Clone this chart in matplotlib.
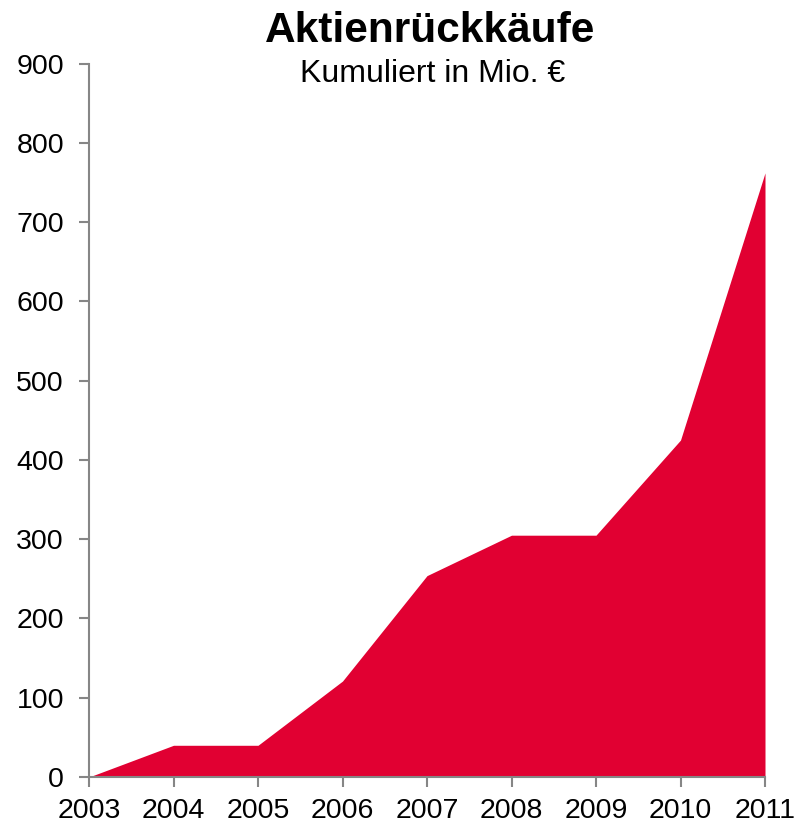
import matplotlib
matplotlib.use("Agg")
import matplotlib.pyplot as plt

years = [2003, 2004, 2005, 2006, 2007, 2008, 2009, 2010, 2011]
values = [0, 40, 40, 121, 254, 305, 305, 425, 762]
yticks = [0, 100, 200, 300, 400, 500, 600, 700, 800, 900]

plt.rcParams['font.family'] = ['Liberation Sans', 'DejaVu Sans']

fig = plt.figure(figsize=(7.98, 8.25), dpi=100)
ax = fig.add_axes([89/798, 48/825, (765-89)/798, (777-63.5)/825])

ax.fill_between(years, values, 0, color='#E10032', linewidth=0)
ax.set_xlim(2003, 2011)
ax.set_ylim(0, 900)
ax.set_xticks(years)
ax.set_yticks(yticks)
ax.tick_params(axis='both', labelsize=20.5, colors='#868686', labelcolor='black',
               length=7, width=1.5)
ax.tick_params(axis='y', pad=11)
ax.tick_params(axis='x', pad=8)
for s in ['top', 'right']:
    ax.spines[s].set_visible(False)
for s in ['left', 'bottom']:
    ax.spines[s].set_color('#868686')
    ax.spines[s].set_linewidth(1.5)
for lbl in ax.get_xticklabels() + ax.get_yticklabels():
    lbl.set_clip_on(False)

fig.text(430/798, 1 - 42/825, 'Aktienrückkäufe', ha='center', va='baseline',
         fontsize=30.5, fontweight='bold')
fig.text(433/798, 1 - 82/825, 'Kumuliert in Mio. €', ha='center', va='baseline',
         fontsize=23)

fig.savefig('out.png', dpi=100)
